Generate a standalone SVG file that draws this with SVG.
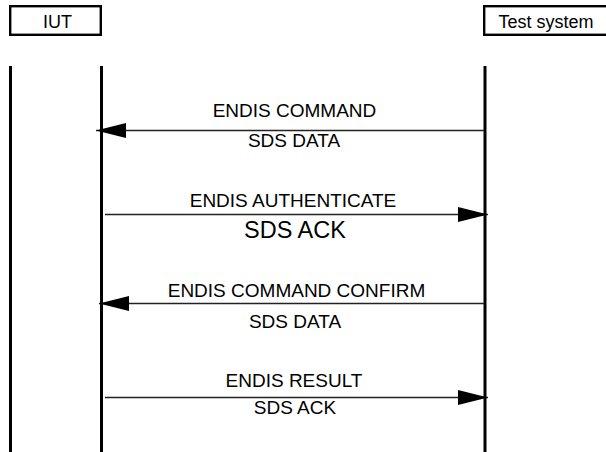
<svg xmlns="http://www.w3.org/2000/svg" width="606" height="452" viewBox="0 0 606 452">
<style>
text{font-family:"Liberation Sans",Arial,sans-serif;fill:#000;text-anchor:middle;}
.lbl{font-size:19px;}
.big{font-size:23.5px;}
.hdr{font-size:18px;}
.box{fill:#fff;stroke:#000;stroke-width:2.4;}
.life{stroke:#000;stroke-width:3;fill:none;}
.msg{stroke:#222;stroke-width:1.3;fill:none;marker-end:url(#ah);}
</style>
<defs>
<marker id="ah" markerUnits="userSpaceOnUse" viewBox="0 0 30 16" markerWidth="30" markerHeight="16" refX="30" refY="8" orient="auto">
<path d="M0,0.5 L30,8 L0,15.5 Z" fill="#000"/>
</marker>
</defs>
<rect width="606" height="452" fill="#fff"/>
<g id="iut">
<rect class="box" x="10.2" y="6.2" width="90.6" height="28.6"/>
<text class="hdr" x="57.5" y="28">IUT</text>
</g>
<g id="test-system">
<rect class="box" x="484.2" y="6.2" width="130" height="28.6"/>
<text class="hdr" x="546" y="28">Test system</text>
</g>
<g id="lifelines">
<line class="life" x1="10.5" y1="66" x2="10.5" y2="452"/>
<line class="life" x1="101.5" y1="66" x2="101.5" y2="452"/>
<line class="life" x1="485" y1="66" x2="485" y2="452"/>
</g>
<g id="connectors">
<line class="msg" x1="484" y1="130.5" x2="96" y2="130.5"/>
<line class="msg" x1="105" y1="214.5" x2="488" y2="214.5"/>
<line class="msg" x1="484" y1="303.5" x2="99" y2="303.5"/>
<line class="msg" x1="105" y1="397.5" x2="488" y2="397.5"/>
</g>
<g id="labels">
<text class="lbl" x="294.5" y="117">ENDIS COMMAND</text>
<text class="lbl" x="294" y="147">SDS DATA</text>
<text class="lbl" x="293" y="207">ENDIS AUTHENTICATE</text>
<text class="big" x="295" y="238">SDS ACK</text>
<text class="lbl" x="296.5" y="297">ENDIS COMMAND CONFIRM</text>
<text class="lbl" x="295" y="328">SDS DATA</text>
<text class="lbl" x="294" y="387">ENDIS RESULT</text>
<text class="lbl" x="295" y="414">SDS ACK</text>
</g>
</svg>
